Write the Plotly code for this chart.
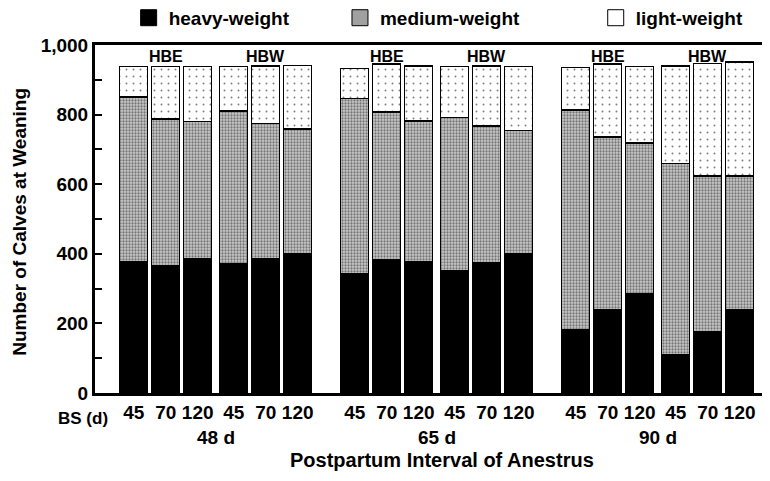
import plotly.graph_objects as go

# ---- data ----
intervals = ["48 d", "65 d", "90 d"]          # postpartum interval of anestrus
breeds = ["HBE", "HBW"]
bs_days = ["45", "70", "120"]                 # breeding season length (d)

heavy = [376, 366, 385, 371, 387, 399,
         344, 382, 377, 351, 374, 399,
         181, 240, 286, 111, 175, 239]
medium = [475, 421, 395, 440, 388, 360,
          502, 425, 405, 440, 393, 355,
          632, 495, 432, 549, 449, 385]
light = [87, 151, 158, 127, 165, 182,
         87, 138, 158, 147, 173, 184,
         122, 210, 220, 280, 323, 327]

series_names = ["heavy-weight", "medium-weight", "light-weight"]

# ---- layout constants ----
GROUP_STEP, SUB_STEP, BAR_STEP, BAR_W = 221, 100, 32, 28
FONT = "Liberation Sans, Arial, Helvetica, sans-serif"

x = []
ticktext = []
for g in range(len(intervals)):
    for s in range(len(breeds)):
        for b in range(len(bs_days)):
            x.append(g * GROUP_STEP + s * SUB_STEP + b * BAR_STEP)
            ticktext.append(bs_days[b])

def fnt(size, weight="bold"):
    return dict(family=FONT, size=size, color="black", weight=weight)

line = dict(color="black", width=1.5)
fig = go.Figure()
fig.add_trace(go.Bar(x=x, y=heavy, width=BAR_W, name=series_names[0], showlegend=False,
                     marker=dict(color="black", line=line)))
fig.add_trace(go.Bar(x=x, y=medium, width=BAR_W, name=series_names[1], showlegend=False,
                     marker=dict(color="#b0b0b0", line=line,
                                 pattern=dict(shape=".", fgcolor="#202020", bgcolor="#cacaca",
                                              size=3, solidity=0.45))))
fig.add_trace(go.Bar(x=x, y=light, width=BAR_W, name=series_names[2], showlegend=False,
                     marker=dict(color="white", line=line,
                                 pattern=dict(shape=".", fgcolor="black", bgcolor="white",
                                              size=7, solidity=0.06))))

# legend proxies (larger swatches)
legend_colors = ["black", "#a0a0a0", "white"]
legend_ids = ["legend", "legend2", "legend3"]
for nm, col, lid in zip(series_names, legend_colors, legend_ids):
    fig.add_trace(go.Scatter(x=[None], y=[None], mode="markers", name=nm, legend=lid,
                             marker=dict(symbol="square", size=16, color=col,
                                         line=dict(color="black", width=1))))

leg_common = dict(orientation="h", yanchor="middle", y=1.078, xanchor="left",
                  bgcolor="rgba(0,0,0,0)", font=fnt(19))

def note(xv, yv, text, size, xref="paper", yref="paper", **kw):
    return dict(x=xv, y=yv, xref=xref, yref=yref, text=text, showarrow=False,
                xanchor="center", yanchor="middle", font=fnt(size), **kw)

annotations = []
# breed labels
for g in range(len(intervals)):
    for s, br in enumerate(breeds):
        annotations.append(note(g * GROUP_STEP + s * SUB_STEP + BAR_STEP, 968, br, 16,
                                xref="x", yref="y"))
# interval labels
for g, iv in enumerate(intervals):
    annotations.append(note(g * GROUP_STEP + SUB_STEP / 2 + BAR_STEP, -0.128, iv, 19,
                            xref="x"))
annotations.append(note(-0.018, -0.072, "BS (d)", 17))
annotations.append(note(0.515, -0.193, "Postpartum Interval of Anestrus", 20))
annotations.append(note(-0.112, 0.491, "Number of Calves at Weaning", 19, textangle=-90))

yt = list(range(0, 1001, 100))
ytext = [("1,000" if v == 1000 else str(v)) if v % 200 == 0 else "" for v in yt]

# page body has an 8px margin: figure is sized/margined so the plot lands where the reference has it
fig.update_layout(
    width=762, height=473,
    margin=dict(l=87, r=2, t=37, b=88, autoexpand=False),
    barmode="stack", plot_bgcolor="white", paper_bgcolor="white",
    font=dict(family=FONT, color="black"),
    legend=dict(leg_common, x=0.05),
    legend2=dict(leg_common, x=0.364),
    legend3=dict(leg_common, x=0.744),
    annotations=annotations,
    xaxis=dict(range=[-38.7, 634.3], tickvals=x, ticktext=ticktext, ticks="",
               showline=True, linewidth=3, linecolor="black", mirror=True,
               showgrid=False, zeroline=False, tickfont=fnt(19)),
    yaxis=dict(range=[0, 1000], tickvals=yt, ticktext=ytext, ticks="inside",
               ticklen=7, tickwidth=1.5, tickcolor="black",
               showline=True, linewidth=3, linecolor="black", mirror=False,
               showgrid=False, zeroline=False, tickfont=fnt(19)),
)

fig.write_html("out.html")
